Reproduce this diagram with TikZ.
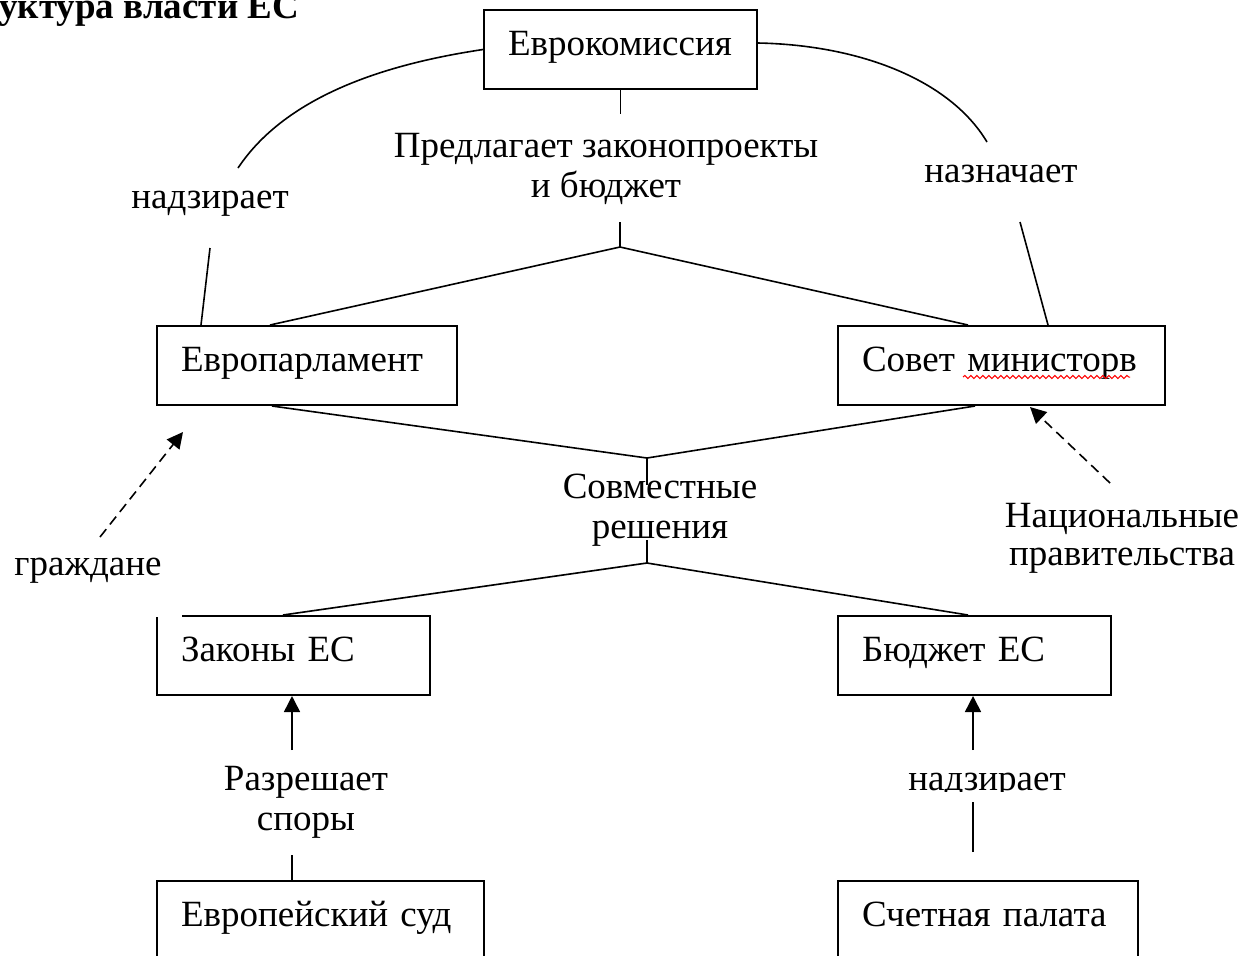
\documentclass[tikz,border=0pt]{standalone}
\usepackage{fontspec}
\setmainfont{Liberation Serif}
\usepackage{tikz}
\usetikzlibrary{arrows.meta}
\usetikzlibrary{decorations.pathmorphing}

\tikzset{
  box/.style={draw, line width=1pt, anchor=north west, align=left, inner xsep=12pt, inner ysep=0pt, text height=22.5pt, text depth=17pt},
  lbl/.style={align=center, anchor=base, inner sep=0pt},
  con/.style={line width=0.8pt},
  arr/.style={con, -{Triangle[length=8pt,width=8pt]}},
  dasharr/.style={con, dash pattern=on 5pt off 3pt, -{Triangle[length=8pt,width=8pt]}}
}

\begin{document}
\begin{tikzpicture}[x=0.5pt, y=-0.5pt, font=\fontsize{18.5}{20}\selectfont]
      \useasboundingbox (0,0) rectangle (1245,955);
      \clip (0,0) rectangle (1245,955);

      \node[lbl, anchor=base west, font=\fontsize{18.5}{20}\selectfont\bfseries] (title) at (-1,18) {уктура власти ЕС};

      \node[box, text width=112.5pt] (kom) at (483,9) {Еврокомиссия};
      \node[box, text width=126pt] (parl) at (156,325) {Европарламент};
      \node[box, text width=139.5pt] (sovet) at (837,325) {Совет министорв};
      \node[box, text width=112.5pt] (zakony) at (156,615) {Законы ЕС};
      \node[box, text width=112.5pt] (budget) at (837,615) {Бюджет ЕС};
      \node[box, text width=139.5pt] (sud) at (156,880) {Европейский суд};
      \node[box, text width=126pt] (schet) at (837,880) {Счетная палата};
      \draw[white, line width=1.6pt] ([xshift=-0.5pt]zakony.north west) -- ++(27,0);

      \node[lbl] (predl) at (606,197) {Предлагает законопроекты\\и бюджет};
      \node[lbl] (nadz) at (210,208) {надзирает};
      \node[lbl] (nazn) at (1001,182) {назначает};
      \node[lbl] (sovm) at (660,538) {Совместные\\решения};
      \node[lbl] (grazh) at (88,575) {граждане};
      \node[lbl, font=\fontsize{18.5}{19}\selectfont] (nacion) at (1122,565) {Национальные\\правительства};
      \node[lbl] (razr) at (306,830) {Разрешает\\споры};
      \begin{scope}
        \clip (880,700) rectangle (1080,791);
        \node[lbl] (nadzb) at (987,790) {надзирает};
      \end{scope}

      \coordinate (f1) at (620,247);
      \coordinate (f2) at (647,458);
      \coordinate (f3) at (647,563);
      \coordinate (c1) at (238,168);
      \coordinate (c2) at (210,248);
      \coordinate (c3) at (987,142);
      \coordinate (c4) at (1020,222);
      \coordinate (g1) at (100,537);
      \coordinate (g2) at (183,432);
      \coordinate (n1) at (1110,483);
      \coordinate (n2) at (1030,407);

      \draw[con] (kom.south) -- ++(0,24);
      \draw[con] (f1) -- ++(0,-25);
      \draw[con] ([xshift=57pt]parl.north west) -- (f1) -- ([xshift=65.5pt]sovet.north west);
      \draw[con] ([xshift=58pt]parl.south west) -- (f2) -- ([xshift=69pt]sovet.south west);
      \draw[con] (f2) -- ++(0,27);
      \draw[con] (f3) -- ++(0,-23);
      \draw[con] ([xshift=63.5pt]zakony.north west) -- (f3) -- ([xshift=65.5pt]budget.north west);

      \draw[con] (kom.west) .. controls (400,62) and (290,90) .. (c1);
      \draw[con] (c2) -- ([xshift=22.5pt]parl.north west);
      \draw[con] ([yshift=3.25pt]kom.east) .. controls (860,45) and (950,80) .. (c3);
      \draw[con] (c4) -- ([xshift=105.5pt]sovet.north west);

      \draw[arr] ([xshift=68pt,yshift=-27pt]zakony.south west) -- ([xshift=68pt]zakony.south west);
      \draw[con] ([xshift=68pt]sud.north west) -- ++(0,-25);
      \draw[arr] ([xshift=68pt,yshift=-27pt]budget.south west) -- ([xshift=68pt]budget.south west);
      \draw[con] ([xshift=68pt,yshift=14pt]schet.north west) -- ++(0,-50);

      \draw[dasharr] (g1) -- (g2);
      \draw[dasharr] (n1) -- (n2);

      \draw[red, line width=0.5pt, decorate, decoration={snake, amplitude=0.8pt, segment length=3pt}] (963,377) -- (1130,377);
\end{tikzpicture}
\end{document}
